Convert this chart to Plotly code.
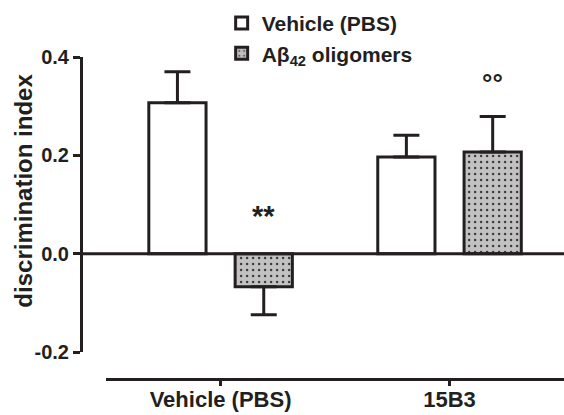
import plotly.graph_objects as go

# ---- data ----
categories = ["Vehicle (PBS)", "15B3"]
series_names = ["Vehicle (PBS)", "Aβ<sub>42</sub> oligomers"]
vehicle_mean = [0.307, 0.197]
vehicle_sem = [0.063, 0.044]
abeta_mean = [-0.067, 0.207]
abeta_sem = [0.057, 0.072]
sig_labels = ["**", "°°"]          # above the Aβ42 bars
sig_y = [0.077, 0.348]
y_ticks = [-0.2, 0.0, 0.2, 0.4]
y_title = "discrimination index"

FONT = "Arial, Liberation Sans, Helvetica, sans-serif"
INK = "#231f20"
BARGAP = 0.246
GROUPGAP = 0.337


def up(mean, sem):
    return [s if m >= 0 else 0 for m, s in zip(mean, sem)]


def down(mean, sem):
    return [s if m < 0 else 0 for m, s in zip(mean, sem)]


fig = go.Figure()
fig.add_trace(go.Bar(
    x=categories, y=vehicle_mean, name=series_names[0],
    marker=dict(color="white", line=dict(color=INK, width=3)),
    error_y=dict(type="data", symmetric=False,
                 array=up(vehicle_mean, vehicle_sem),
                 arrayminus=down(vehicle_mean, vehicle_sem),
                 color=INK, thickness=3, width=13),
))
fig.add_trace(go.Bar(
    x=categories, y=abeta_mean, name=series_names[1],
    marker=dict(color="#c2c2c2", line=dict(color=INK, width=3),
                pattern=dict(shape=".", fgcolor="#333333", bgcolor="#c2c2c2",
                             size=6, solidity=0.12, fillmode="replace")),
    error_y=dict(type="data", symmetric=False,
                 array=up(abeta_mean, abeta_sem),
                 arrayminus=down(abeta_mean, abeta_sem),
                 color=INK, thickness=3, width=13),
))

offset = (1 - BARGAP) / 4
for i, (lab, yy) in enumerate(zip(sig_labels, sig_y)):
    fig.add_annotation(x=i + offset, y=yy, xref="x", yref="y", text=lab,
                       showarrow=False,
                       font=dict(family=FONT, size=29 if lab == "**" else 26,
                                 color=INK, weight="bold"))

# y-axis title (drawn as rotated text so it sits left of the free axis)
fig.add_annotation(x=-0.118, y=0.585, xref="paper", yref="paper", text=y_title,
                   textangle=-90, showarrow=False,
                   xanchor="center", yanchor="middle",
                   font=dict(family=FONT, size=24, color=INK, weight="bold"))

# zero line across the plot
fig.add_shape(type="line", xref="paper", x0=0, x1=1, yref="y", y0=0, y1=0,
              line=dict(color=INK, width=3))

fig.update_layout(
    width=564, height=415,
    margin=dict(l=81, r=0, t=57, b=36, autoexpand=False),
    paper_bgcolor="white", plot_bgcolor="white",
    barmode="group", bargap=BARGAP, bargroupgap=GROUPGAP,
    font=dict(family=FONT, color=INK, size=20),
    showlegend=True,
    legend=dict(xref="container", yref="container", x=0.393, y=0.993,
                xanchor="left", yanchor="top",
                font=dict(family=FONT, size=21, color=INK, weight="bold"),
                bgcolor="rgba(0,0,0,0)"),
    xaxis=dict(domain=[0.052, 1], range=[-0.5, 1.5], anchor="free", position=0,
               automargin=False, tickangle=0, ticklabelstandoff=-5,
               showline=True, linecolor=INK, linewidth=3,
               ticks="outside", ticklen=5, tickwidth=3, tickcolor=INK,
               tickfont=dict(family=FONT, size=22, color=INK, weight="bold"),
               showgrid=False, zeroline=False),
    yaxis=dict(domain=[0.083, 1], range=[-0.2, 0.4], anchor="free", position=0,
               automargin=False,
               tickvals=y_ticks, ticktext=[f"{v:.1f}" for v in y_ticks],
               showline=True, linecolor=INK, linewidth=3,
               ticks="outside", ticklen=7, tickwidth=3, tickcolor=INK,
               tickfont=dict(family=FONT, size=20, color=INK, weight="bold"),
               showgrid=False, zeroline=False),
)

fig.write_html("out.html", config={"displayModeBar": False},
               post_script="document.body.style.margin='0';")
